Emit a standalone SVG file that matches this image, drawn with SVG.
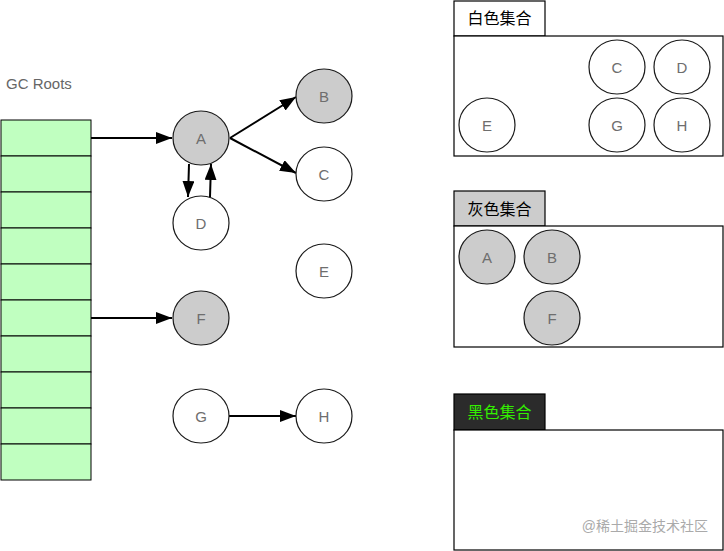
<svg xmlns="http://www.w3.org/2000/svg" width="724" height="551" viewBox="0 0 724 551">
<defs>
<style>
.cell{fill:#c0ffc0;stroke:#000;stroke-width:1}
.n{stroke:#1a1a1a;stroke-width:1.2}
.w{fill:#fff}
.g{fill:#cccccc}
.lbl{font-family:"Liberation Sans",Arial,sans-serif;font-size:15px;fill:#6e6e6e;text-anchor:middle;dominant-baseline:central}
.tab{font-family:"Liberation Sans","Noto Sans CJK SC",sans-serif;font-size:16px;text-anchor:middle;dominant-baseline:central}
.box{fill:#fff;stroke:#000;stroke-width:1.2}
.e{stroke:#000;stroke-width:2;fill:none;marker-end:url(#ah)}
</style>
<marker id="ah" viewBox="0 0 16 12" refX="16" refY="6" markerWidth="8" markerHeight="6" markerUnits="strokeWidth" orient="auto">
<path d="M0,0L16,6L0,12z" fill="#000"/>
</marker>
</defs>
<rect width="724" height="551" fill="#fff"/>
<text x="6" y="89" font-family="Liberation Sans,Arial,sans-serif" font-size="15" fill="#666">GC Roots</text>
<g id="roots">
<rect class="cell" x="1" y="120" width="90" height="36"/>
<rect class="cell" x="1" y="156" width="90" height="36"/>
<rect class="cell" x="1" y="192" width="90" height="36"/>
<rect class="cell" x="1" y="228" width="90" height="36"/>
<rect class="cell" x="1" y="264" width="90" height="36"/>
<rect class="cell" x="1" y="300" width="90" height="36"/>
<rect class="cell" x="1" y="336" width="90" height="36"/>
<rect class="cell" x="1" y="372" width="90" height="36"/>
<rect class="cell" x="1" y="408" width="90" height="36"/>
<rect class="cell" x="1" y="444" width="90" height="36"/>
</g>
<g id="edges">
<line class="e" x1="91" y1="138" x2="172" y2="138"/>
<line class="e" x1="230" y1="138" x2="296" y2="97"/>
<line class="e" x1="230" y1="138" x2="296" y2="173"/>
<line class="e" x1="189" y1="164" x2="188" y2="197"/>
<line class="e" x1="210" y1="197" x2="211" y2="164"/>
<line class="e" x1="91" y1="318" x2="172" y2="318"/>
<line class="e" x1="229" y1="416" x2="296" y2="416"/>
</g>
<g id="nA"><ellipse class="n g" cx="201" cy="138" rx="28" ry="27"/><text class="lbl" x="201" y="138">A</text></g>
<g id="nB"><ellipse class="n g" cx="324" cy="96" rx="28" ry="27"/><text class="lbl" x="324" y="96">B</text></g>
<g id="nC"><ellipse class="n w" cx="324" cy="174" rx="28" ry="27"/><text class="lbl" x="324" y="174">C</text></g>
<g id="nD"><ellipse class="n w" cx="201" cy="223" rx="28" ry="27"/><text class="lbl" x="201" y="223">D</text></g>
<g id="nE"><ellipse class="n w" cx="324" cy="271" rx="28" ry="27"/><text class="lbl" x="324" y="271">E</text></g>
<g id="nF"><ellipse class="n g" cx="201" cy="318" rx="28" ry="27"/><text class="lbl" x="201" y="318">F</text></g>
<g id="nG"><ellipse class="n w" cx="201" cy="416" rx="28" ry="27"/><text class="lbl" x="201" y="416">G</text></g>
<g id="nH"><ellipse class="n w" cx="324" cy="416" rx="28" ry="27"/><text class="lbl" x="324" y="416">H</text></g>
<g id="whiteSet">
<rect class="box" x="454" y="1" width="91" height="35"/>
<text class="tab" x="499.5" y="18.5" fill="#000">白色集合</text>
<rect class="box" x="454" y="36" width="269" height="120"/>
<ellipse class="n w" cx="617" cy="67" rx="28" ry="27"/><text class="lbl" x="617" y="67">C</text>
<ellipse class="n w" cx="682" cy="67" rx="28" ry="27"/><text class="lbl" x="682" y="67">D</text>
<ellipse class="n w" cx="487" cy="125" rx="28" ry="27"/><text class="lbl" x="487" y="125">E</text>
<ellipse class="n w" cx="617" cy="125" rx="28" ry="27"/><text class="lbl" x="617" y="125">G</text>
<ellipse class="n w" cx="682" cy="125" rx="28" ry="27"/><text class="lbl" x="682" y="125">H</text>
</g>
<g id="graySet">
<rect class="box" x="454" y="191" width="91" height="35" style="fill:#cccccc"/>
<text class="tab" x="499.5" y="209" fill="#000">灰色集合</text>
<rect class="box" x="454" y="226" width="269" height="121"/>
<ellipse class="n g" cx="487" cy="257" rx="28" ry="27"/><text class="lbl" x="487" y="257">A</text>
<ellipse class="n g" cx="552" cy="257" rx="28" ry="27"/><text class="lbl" x="552" y="257">B</text>
<ellipse class="n g" cx="552" cy="318" rx="28" ry="27"/><text class="lbl" x="552" y="318">F</text>
</g>
<g id="blackSet">
<rect class="box" x="454" y="394" width="91" height="36" style="fill:#2b2b2b"/>
<text class="tab" x="499.5" y="412" fill="#33ee00">黑色集合</text>
<rect class="box" x="454" y="430" width="269" height="120"/>
<text x="708" y="531" text-anchor="end" font-family="Liberation Sans,'Noto Sans CJK SC',sans-serif" font-size="14" fill="#aaa">@稀土掘金技术社区</text>
</g>
</svg>
